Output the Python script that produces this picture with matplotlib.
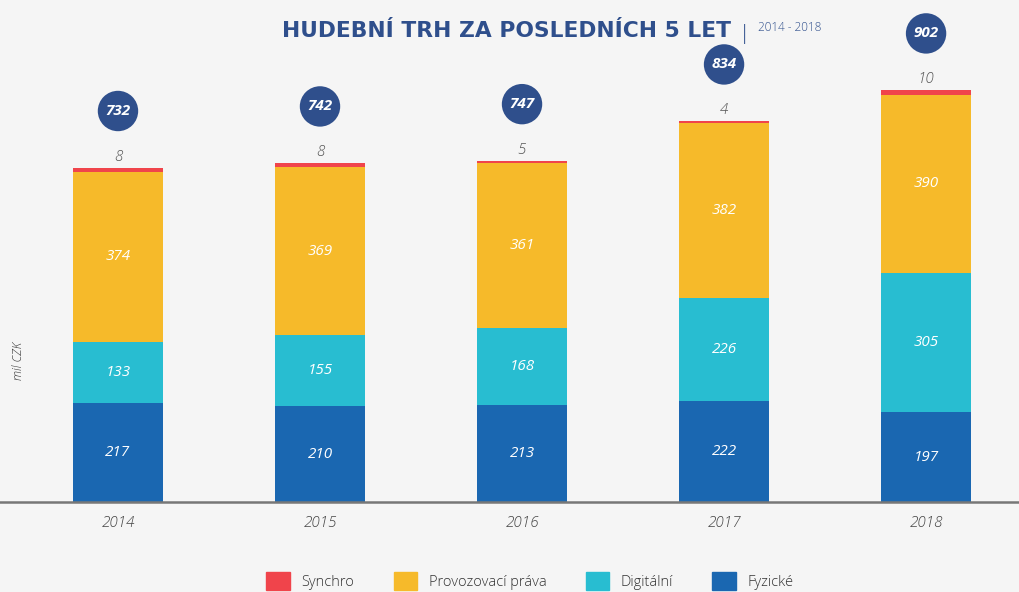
import matplotlib.pyplot as plt
from matplotlib.patches import Patch
import numpy as np

years = ["2014", "2015", "2016", "2017", "2018"]
fyzicke = [217, 210, 213, 222, 197]
digitalni = [133, 155, 168, 226, 305]
provozovaci = [374, 369, 361, 382, 390]
synchro = [8, 8, 5, 4, 10]
totals = [732, 742, 747, 834, 902]

C_FYZ = "#1A67B1"
C_DIG = "#28BDD1"
C_PROV = "#F6BA2A"
C_SYN = "#F0444B"
C_NAVY = "#2F4F8C"
BG = "#F5F5F5"

plt.rcParams['font.family'] = ['Open Sans', 'DejaVu Sans']

fig = plt.figure(figsize=(10.19, 5.92), dpi=100, facecolor=BG)
ax = fig.add_axes([0, 0.152, 1, 0.848], facecolor=BG)

x = np.arange(len(years))
w = 0.445
series = [(fyzicke, C_FYZ), (digitalni, C_DIG), (provozovaci, C_PROV), (synchro, C_SYN)]
bottom = np.zeros(len(years))
for vals, col in series:
    ax.bar(x, vals, w, bottom=bottom, color=col)
    if col != C_SYN:
        for xi, b, v in zip(x, bottom, vals):
            ax.text(xi, b + v / 2, str(v), ha='center', va='center', color='white',
                    fontsize=11, style='italic')
    bottom += np.array(vals)

for xi, top, s, t in zip(x, bottom, synchro, totals):
    ax.annotate(str(s), (xi, top), xytext=(0, 3), textcoords='offset points',
                ha='center', va='bottom', fontsize=11, style='italic', color='#555555',
                fontweight='light')
    ax.annotate(str(t), (xi, top), xytext=(0, 41), textcoords='offset points',
                ha='center', va='center', fontsize=11, fontweight='bold', style='italic',
                color='white',
                bbox=dict(boxstyle='circle,pad=0.5', fc=C_NAVY, ec='none'))

ax.set_xlim(-0.584, 4.46)
ax.set_ylim(0, 1100)
ax.set_xticks(x)
ax.set_xticklabels(years, style='italic', fontsize=11, color='#444444', fontweight='light')
ax.tick_params(axis='x', length=0, pad=10)
ax.set_yticks([])
for sp in ['top', 'right', 'left']:
    ax.spines[sp].set_visible(False)
ax.spines['bottom'].set_color('#777777')
ax.spines['bottom'].set_linewidth(1.8)

fig.text(0.018, 0.39, "mil CZK", rotation=90, ha='center', va='center',
         fontsize=8.5, style='italic', color='#333333', fontweight='light')

fig.text(0.497, 0.947, "HUDEBNÍ TRH ZA POSLEDNÍCH 5 LET", ha='center', va='center',
         fontsize=15.7, fontweight='bold', color=C_NAVY, family=['DejaVu Sans'])
fig.text(0.731, 0.942, "|", ha='center', va='center', fontsize=15, color=C_NAVY,
         fontweight='light')
fig.text(0.744, 0.953, "2014 - 2018", ha='left', va='center', fontsize=8.5, color=C_NAVY,
         fontweight='light')

handles = [Patch(color=C_SYN, label="Synchro"),
           Patch(color=C_PROV, label="Provozovací práva"),
           Patch(color=C_DIG, label="Digitální"),
           Patch(color=C_FYZ, label="Fyzické")]
fig.legend(handles=handles, loc='lower center', bbox_to_anchor=(0.520, -0.019), ncol=4,
           frameon=False, prop={'size': 10.5, 'weight': 'light'}, handlelength=1.6,
           handleheight=1.5, columnspacing=2.7, handletextpad=0.8, labelcolor='#333333')

fig.savefig("out.png", dpi=100, facecolor=BG)
